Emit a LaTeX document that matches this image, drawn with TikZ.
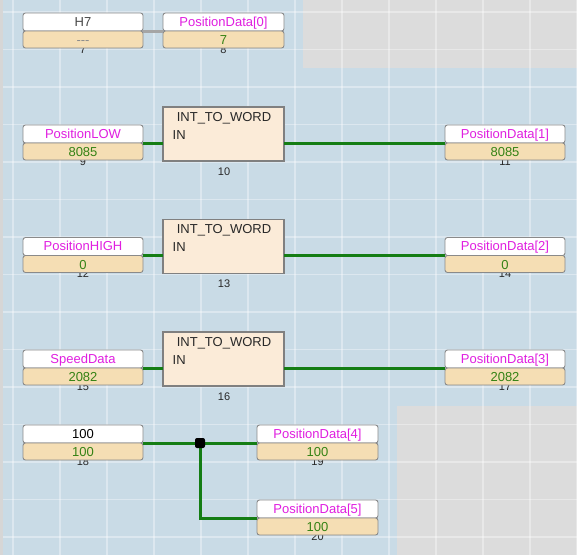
\documentclass[tikz,border=0pt]{standalone}
\usepackage{fontspec}
\setmainfont{Liberation Sans}
\definecolor{bgblue}{RGB}{201,219,230}
\definecolor{bggrey}{RGB}{220,220,220}
\definecolor{edgegrey}{RGB}{214,214,214}
\definecolor{boxborder}{RGB}{138,138,138}
\definecolor{tanfill}{RGB}{245,222,180}
\definecolor{blockfill}{RGB}{251,235,216}
\definecolor{blockborder}{RGB}{128,128,128}
\definecolor{wiregreen}{RGB}{20,125,20}
\definecolor{wiregrey}{RGB}{165,165,165}
\definecolor{magentatxt}{RGB}{224,30,224}
\definecolor{valgreen}{RGB}{52,130,20}
\definecolor{darktxt}{RGB}{40,40,40}
\begin{document}
\begin{tikzpicture}[x=1pt,y=-1pt,
  gridline/.style={draw=white,opacity=0.36,line width=1.6pt},
  namebox/.style={draw=boxborder,fill=white,line width=0.9pt,rounded corners=2.5pt,
    minimum width=120pt,minimum height=18pt,inner sep=0pt,outer sep=0pt,anchor=north west,
    text height=10.5pt,text depth=2pt,font=\fontsize{13}{15}\selectfont},
  valbox/.style={draw=boxborder,fill=tanfill,line width=0.9pt,rounded corners=2.5pt,
    minimum width=120pt,minimum height=17pt,inner sep=0pt,outer sep=0pt,anchor=north west,
    text height=10.5pt,text depth=0pt,font=\fontsize{13}{15}\selectfont,text=valgreen},
  blockbox/.style={draw=blockborder,fill=blockfill,line width=1.3pt,
    minimum width=121pt,minimum height=54pt,inner sep=0pt,outer sep=0pt,anchor=north west},
  blocktxt/.style={inner sep=0pt,font=\fontsize{13}{15}\selectfont,text=darktxt},
  idx/.style={inner sep=0pt,anchor=base,font=\fontsize{11}{13}\selectfont,text=darktxt},
  wire/.style={draw=wiregreen,line width=3pt},
  greywire/.style={draw=wiregrey,line width=3pt},
  junction/.style={fill=black,minimum size=10pt,inner sep=0pt,rounded corners=2pt}
]
\useasboundingbox (0,0) rectangle (577,555);
% background
\fill[bgblue] (0,0) rectangle (577,555);
\fill[edgegrey] (0,0) rectangle (3,555);
\fill[bggrey] (303,0) rectangle (577,68);
\fill[bggrey] (397,406) rectangle (577,555);
\foreach \i in {0,...,12} \draw[gridline] ({13+47*\i},0) -- ({13+47*\i},555);
\foreach \j in {0,...,14} \draw[gridline] (3,{12+37.5*\j}) -- (577,{12+37.5*\j});

% index labels (drawn first so the boxes cover their tops)
\node[idx] (l7) at (83,53) {7};
\node[idx] (l8) at (223.5,53) {8};
\node[idx] (l9) at (83,165) {9};
\node[idx] (l10) at (224,175) {10};
\node[idx] (l11) at (505,165) {11};
\node[idx] (l12) at (83,277.5) {12};
\node[idx] (l13) at (224,287.5) {13};
\node[idx] (l14) at (505,277.5) {14};
\node[idx] (l15) at (83,390) {15};
\node[idx] (l16) at (224,400) {16};
\node[idx] (l17) at (505,390) {17};
\node[idx] (l18) at (83,465) {18};
\node[idx] (l19) at (317.5,465) {19};
\node[idx] (l20) at (317.5,540) {20};

% row 1
\node[namebox,text=darktxt!85] (h7) at (23,13) {H7};
\node[valbox,text=black!45] (h7v) at (23,31) {-{}-{}-};
\node[namebox,text=magentatxt,minimum width=121pt] (pd0) at (163,13) {PositionData[0]};
\node[valbox,minimum width=121pt] (pd0v) at (163,31) {7};
\draw[greywire] (h7.south east) -- (pd0.south west);

% row 2
\node[namebox,text=magentatxt] (plow) at (23,125) {PositionLOW};
\node[valbox] (plowv) at (23,143) {8085};
\node[blockbox] (b1) at (163,107) {};
\node[blocktxt,anchor=base] (b1t) at (224,121) {INT\_TO\_WORD};
\node[blocktxt,anchor=base west] (b1i) at (172.5,139) {IN};
\node[namebox,text=magentatxt] (pd1) at (445,125) {PositionData[1]};
\node[valbox] (pd1v) at (445,143) {8085};
\draw[wire] (plow.south east) -- (plow.south east -| b1.west);
\draw[wire] (b1.east |- pd1.south west) -- (pd1.south west);

% row 3
\node[namebox,text=magentatxt] (phigh) at (23,237.5) {PositionHIGH};
\node[valbox] (phighv) at (23,255.5) {0};
\node[blockbox] (b2) at (163,219.5) {};
\node[blocktxt,anchor=base] (b2t) at (224,233.5) {INT\_TO\_WORD};
\node[blocktxt,anchor=base west] (b2i) at (172.5,251.5) {IN};
\node[namebox,text=magentatxt] (pd2) at (445,237.5) {PositionData[2]};
\node[valbox] (pd2v) at (445,255.5) {0};
\draw[wire] (phigh.south east) -- (phigh.south east -| b2.west);
\draw[wire] (b2.east |- pd2.south west) -- (pd2.south west);

% row 4
\node[namebox,text=magentatxt] (speed) at (23,350) {SpeedData};
\node[valbox] (speedv) at (23,368) {2082};
\node[blockbox] (b3) at (163,332) {};
\node[blocktxt,anchor=base] (b3t) at (224,346) {INT\_TO\_WORD};
\node[blocktxt,anchor=base west] (b3i) at (172.5,364) {IN};
\node[namebox,text=magentatxt] (pd3) at (445,350) {PositionData[3]};
\node[valbox] (pd3v) at (445,368) {2082};
\draw[wire] (speed.south east) -- (speed.south east -| b3.west);
\draw[wire] (b3.east |- pd3.south west) -- (pd3.south west);

% row 5
\node[namebox,text=black] (c100) at (23,425) {100};
\node[valbox] (c100v) at (23,443) {100};
\node[namebox,text=magentatxt,minimum width=121pt] (pd4) at (257,425) {PositionData[4]};
\node[valbox,minimum width=121pt] (pd4v) at (257,443) {100};
\node[namebox,text=magentatxt,minimum width=121pt] (pd5) at (257,500) {PositionData[5]};
\node[valbox,minimum width=121pt] (pd5v) at (257,518) {100};
\coordinate (jc) at (200,443);
\draw[wire] (c100.south east) -- (jc) -- (pd4.south west);
\draw[wire] (jc) |- (pd5.south west);
\node[junction] (j) at (jc) {};
\end{tikzpicture}
\end{document}
